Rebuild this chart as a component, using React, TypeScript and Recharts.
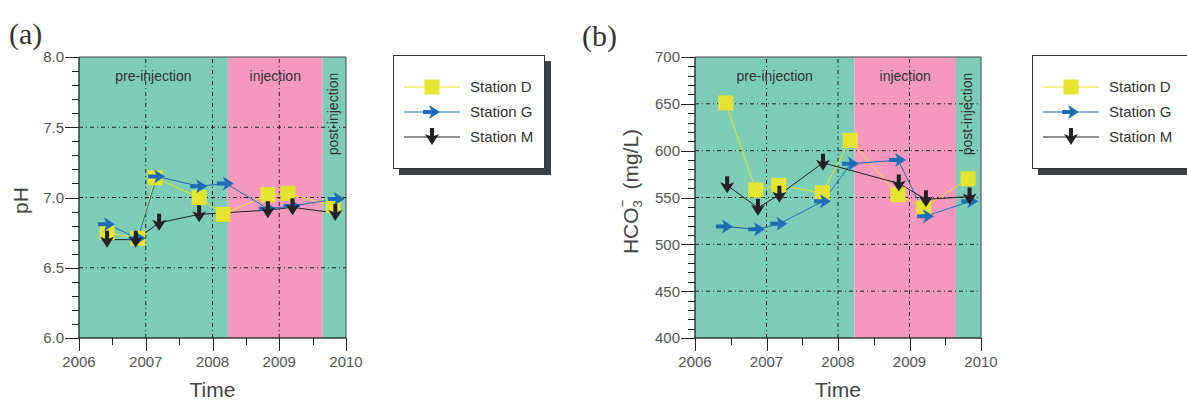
import React from "react";
import {
  LineChart,
  Line,
  XAxis,
  YAxis,
  ReferenceArea,
  ReferenceLine,
  Legend,
} from "recharts";

// sampling dates and values
const phDatesD = [2006.42, 2006.88, 2007.14, 2007.8, 2008.16, 2008.83, 2009.13, 2009.81];
const phD = [6.75, 6.71, 7.14, 7.0, 6.88, 7.02, 7.03, 6.94];
const phDatesG = [2006.42, 2006.88, 2007.17, 2007.8, 2008.2, 2008.83, 2009.2, 2009.86];
const phG = [6.81, 6.71, 7.15, 7.08, 7.1, 6.92, 6.94, 6.99];
const phDatesM = [2006.42, 2006.85, 2007.2, 2007.8, 2008.83, 2009.2, 2009.84];
const phM = [6.7, 6.7, 6.82, 6.88, 6.91, 6.93, 6.89];

const hcoDatesD = [2006.43, 2006.85, 2007.17, 2007.78, 2008.17, 2008.84, 2009.2, 2009.82];
const hcoD = [651, 558, 563, 555, 611, 553, 539, 570];
const hcoDatesG = [2006.42, 2006.87, 2007.18, 2007.79, 2008.18, 2008.84, 2009.23, 2009.85];
const hcoG = [519, 516, 522, 546, 586, 590, 530, 546];
const hcoDatesM = [2006.45, 2006.88, 2007.18, 2007.79, 2008.85, 2009.23, 2009.84];
const hcoM = [563, 539, 553, 587, 565, 548, 551];

const xTicks = [2006, 2006.5, 2007, 2007.5, 2008, 2008.5, 2009, 2009.5, 2010];
const xMajor = [2006, 2007, 2008, 2009, 2010];
const xGrid = [2007, 2008, 2009];

const phTicks = [
  6.0, 6.1, 6.2, 6.3, 6.4, 6.5, 6.6, 6.7, 6.8, 6.9, 7.0, 7.1, 7.2, 7.3, 7.4,
  7.5, 7.6, 7.7, 7.8, 7.9, 8.0,
];
const phMajor = [6.0, 6.5, 7.0, 7.5, 8.0];
const phGrid = [6.5, 7.0, 7.5];

const hcoTicks = [
  400, 410, 420, 430, 440, 450, 460, 470, 480, 490, 500, 510, 520, 530, 540,
  550, 560, 570, 580, 590, 600, 610, 620, 630, 640, 650, 660, 670, 680, 690, 700,
];
const hcoMajor = [400, 450, 500, 550, 600, 650, 700];
const hcoGrid = [450, 500, 550, 600, 650];

const injectionStart = 2008.23;
const injectionEnd = 2009.65;

const stations = ["Station D", "Station G", "Station M"];

const GREEN = "#7dccb6";
const PINK = "#f598be";
const YELLOW = "#e4e431";
const BLUE = "#1f6db6";
const BLACK = "#222";
const FONT = "'Liberation Sans', Arial, sans-serif";

const toPoints = (xs: number[], ys: number[]) => xs.map((x, i) => ({ x, y: ys[i] }));

const isMajor = (list: number[], v: number) => list.some((m) => Math.abs(m - v) < 1e-6);

function Square({ cx, cy }: any) {
  return <rect x={cx - 7.5} y={cy - 7.5} width={15} height={15} fill={YELLOW} />;
}

function RightArrow({ cx, cy }: any) {
  const d = `M${cx - 9} ${cy - 2} L${cx - 1} ${cy - 2} L${cx - 3} ${cy - 7} L${cx + 8} ${cy} L${cx - 3} ${cy + 7} L${cx - 1} ${cy + 2} L${cx - 9} ${cy + 2} Z`;
  return <path d={d} fill={BLUE} />;
}

function DownArrow({ cx, cy }: any) {
  const d = `M${cx - 2} ${cy - 9} L${cx + 2} ${cy - 9} L${cx + 2} ${cy - 1} L${cx + 7} ${cy - 3} L${cx} ${cy + 8} L${cx - 7} ${cy - 3} L${cx - 2} ${cy - 1} Z`;
  return <path d={d} fill={BLACK} />;
}

const dotSquare = (p: any) => <Square key={p.index} cx={p.cx} cy={p.cy} />;
const dotRight = (p: any) => <RightArrow key={p.index} cx={p.cx} cy={p.cy} />;
const dotDown = (p: any) => <DownArrow key={p.index} cx={p.cx} cy={p.cy} />;

function makeYTick(major: number[], digits: number) {
  return (props: any) => {
    const { x, y, payload } = props;
    const big = isMajor(major, payload.value);
    const yy = Math.round(y) + 0.5;
    return (
      <g>
        <path d={`M${x - (big ? 14 : 7)} ${yy} H${x}`} stroke="#222" strokeWidth={1} fill="none" />
        {big && (
          <text x={x - 15} y={y} dy="0.36em" textAnchor="end" fontSize={15} fill="#555" fontFamily={FONT}>
            {payload.value.toFixed(digits)}
          </text>
        )}
      </g>
    );
  };
}

function XTick(props: any) {
  const { x, y, payload } = props;
  const big = isMajor(xMajor, payload.value);
  const xx = Math.round(x) + 0.5;
  return (
    <g>
      <path d={`M${xx} ${y} V${y + (big ? 13 : 7)}`} stroke="#222" strokeWidth={1} fill="none" />
      {big && (
        <text x={x} y={y + 29} textAnchor="middle" fontSize={15} fill="#555" fontFamily={FONT}>
          {payload.value}
        </text>
      )}
    </g>
  );
}

const topLabel = (text: string) => (p: any) => {
  const vb = p.viewBox;
  return (
    <text x={vb.x + vb.width / 2} y={vb.y + 24} textAnchor="middle" fontSize={14} fill="#333" fontFamily={FONT}>
      {text}
    </text>
  );
};

const sideLabel = (text: string) => (p: any) => {
  const vb = p.viewBox;
  const x = vb.x + vb.width / 2 + 4;
  const y = vb.y + 57;
  return (
    <text x={x} y={y} transform={`rotate(-90 ${x} ${y})`} textAnchor="middle" fontSize={14} fill="#333" fontFamily={FONT}>
      {text}
    </text>
  );
};

const timeLabel = (p: any) => {
  const vb = p.viewBox;
  return (
    <text x={vb.x + vb.width / 2} y={vb.y + 59} textAnchor="middle" fontSize={21} fill="#444" fontFamily={FONT}>
      Time
    </text>
  );
};

function LegendBox({ width }: { width: number }) {
  const rows = [
    { color: YELLOW, Mark: Square },
    { color: BLUE, Mark: RightArrow },
    { color: BLACK, Mark: DownArrow },
  ];
  return (
    <div
      style={{
        width,
        height: 114,
        boxSizing: "border-box",
        border: "1px solid #333",
        background: "#fff",
        boxShadow: "6px 6px 0 #3c3f44",
        paddingTop: 18,
        fontFamily: FONT,
      }}
    >
      {rows.map((r, i) => (
        <div key={stations[i]} style={{ display: "flex", alignItems: "center", height: 25 }}>
          <svg width={66} height={22} style={{ marginLeft: 8 }}>
            <line x1={2} x2={58} y1={11} y2={11} stroke={r.color} strokeWidth={1.2} />
            <r.Mark cx={30} cy={11} />
          </svg>
          <span style={{ fontSize: 15, color: "#333", marginLeft: 2 }}>{stations[i]}</span>
        </div>
      ))}
    </div>
  );
}

interface PanelProps {
  width: number;
  marginLeft: number;
  marginRight: number;
  axisWidth: number;
  domain: [number, number];
  ticks: number[];
  major: number[];
  grid: number[];
  digits: number;
  d: { x: number; y: number }[];
  g: { x: number; y: number }[];
  m: { x: number; y: number }[];
  yLabel: (p: any) => React.ReactElement;
  legendLeft: number;
  legendWidth: number;
}

function Panel(p: PanelProps) {
  const [lo, hi] = p.domain;
  return (
    <LineChart
      width={p.width}
      height={401}
      margin={{ top: 57, right: p.marginRight, bottom: 3, left: p.marginLeft }}
    >
      <ReferenceArea x1={2006} x2={injectionStart} y1={lo} y2={hi} fill={GREEN} fillOpacity={1} label={topLabel("pre-injection")} />
      <ReferenceArea x1={injectionStart} x2={injectionEnd} y1={lo} y2={hi} fill={PINK} fillOpacity={1} label={topLabel("injection")} />
      <ReferenceArea x1={injectionEnd} x2={2010} y1={lo} y2={hi} fill={GREEN} fillOpacity={1} label={sideLabel("post-injection")} />
      {xGrid.map((v) => (
        <ReferenceLine key={"x" + v} x={v} stroke="#222" strokeDasharray="4 3 1 3" />
      ))}
      {p.grid.map((v) => (
        <ReferenceLine key={"y" + v} y={v} stroke="#222" strokeDasharray="4 3 1 3" />
      ))}
      <ReferenceArea x1={2006} x2={2010} y1={lo} y2={hi} fill="none" stroke="#444" />
      <XAxis
        type="number"
        dataKey="x"
        domain={[2006, 2010]}
        ticks={xTicks}
        interval={0}
        tickSize={0}
        tickMargin={0}
        tick={XTick}
        stroke="#333"
        height={60}
        label={timeLabel}
      />
      <YAxis
        type="number"
        domain={p.domain}
        ticks={p.ticks}
        interval={0}
        tickSize={0}
        tickMargin={0}
        tick={makeYTick(p.major, p.digits)}
        stroke="#333"
        width={p.axisWidth}
        label={p.yLabel}
      />
      <Line data={p.d} dataKey="y" stroke={YELLOW} strokeWidth={1} dot={dotSquare} isAnimationActive={false} />
      <Line data={p.g} dataKey="y" stroke={BLUE} strokeWidth={1} dot={dotRight} isAnimationActive={false} />
      <Line data={p.m} dataKey="y" stroke={BLACK} strokeWidth={1} dot={dotDown} isAnimationActive={false} />
      <Legend
        layout="horizontal"
        verticalAlign="middle"
        align="center"
        wrapperStyle={{ left: p.legendLeft, top: 55, width: p.legendWidth + 10 }}
        content={() => <LegendBox width={p.legendWidth} />}
      />
    </LineChart>
  );
}

const phLabel = (p: any) => {
  const vb = p.viewBox;
  const x = vb.x - 1;
  const y = vb.y + vb.height / 2 + 3;
  return (
    <text x={x} y={y} transform={`rotate(-90 ${x} ${y})`} textAnchor="middle" fontSize={21} fill="#444" fontFamily={FONT}>
      pH
    </text>
  );
};

const hcoLabel = (p: any) => {
  const vb = p.viewBox;
  const x = vb.x + 3;
  const y = vb.y + vb.height / 2 - 6;
  return (
    <text x={x} y={y} transform={`rotate(-90 ${x} ${y})`} textAnchor="middle" fontSize={21} fill="#444" fontFamily={FONT}>
      HCO
      <tspan fontSize={13} dy={4}>3</tspan>
      <tspan fontSize={13} dx={-7} dy={-15}>−</tspan>
      <tspan fontSize={21} dx={10} dy={11}>(mg/L)</tspan>
    </text>
  );
};

export default function App() {
  return (
    <div
      style={{
        position: "absolute",
        left: 0,
        top: 0,
        width: 1187,
        height: 401,
        overflow: "hidden",
        background: "#fff",
      }}
    >
      <div style={{ position: "absolute", left: 9, top: 19, fontFamily: "'Liberation Serif', serif", fontSize: 30, lineHeight: "30px", color: "#333" }}>
        (a)
      </div>
      <div style={{ position: "absolute", left: 582, top: 21, fontFamily: "'Liberation Serif', serif", fontSize: 30, lineHeight: "30px", color: "#333" }}>
        (b)
      </div>
      <div style={{ position: "absolute", left: 0, top: 0 }}>
        <Panel
          width={570}
          marginLeft={29}
          marginRight={224}
          axisWidth={50}
          domain={[6, 8]}
          ticks={phTicks}
          major={phMajor}
          grid={phGrid}
          digits={1}
          d={toPoints(phDatesD, phD)}
          g={toPoints(phDatesG, phG)}
          m={toPoints(phDatesM, phM)}
          yLabel={phLabel}
          legendLeft={393}
          legendWidth={152}
        />
      </div>
      <div style={{ position: "absolute", left: 580, top: 0 }}>
        <Panel
          width={607}
          marginLeft={55}
          marginRight={206}
          axisWidth={60}
          domain={[400, 700]}
          ticks={hcoTicks}
          major={hcoMajor}
          grid={hcoGrid}
          digits={0}
          d={toPoints(hcoDatesD, hcoD)}
          g={toPoints(hcoDatesG, hcoG)}
          m={toPoints(hcoDatesM, hcoM)}
          yLabel={hcoLabel}
          legendLeft={452}
          legendWidth={162}
        />
      </div>
    </div>
  );
}
